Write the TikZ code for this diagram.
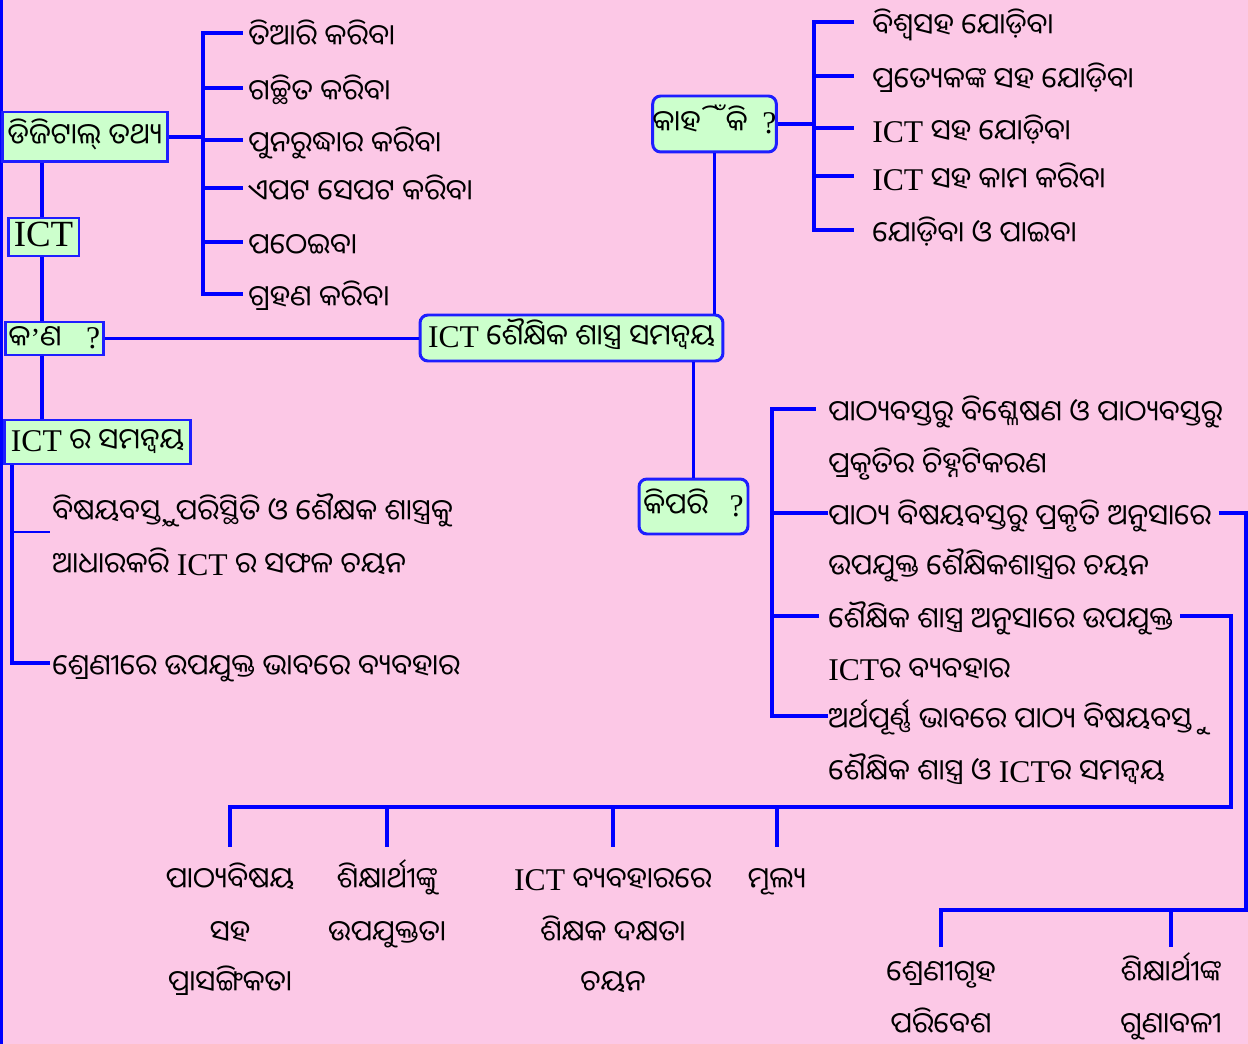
\documentclass[tikz,border=0pt]{standalone}
\usepackage{fontspec}
\setmainfont{Liberation Serif}
\newfontfamily\odia[Script=Oriya]{Noto Sans Oriya UI}
\usepackage{xcolor}
\usetikzlibrary{calc}
\definecolor{bgpink}{RGB}{252,200,230}
\definecolor{bxgreen}{RGB}{204,255,204}
\definecolor{lnblue}{RGB}{0,0,255}
\definecolor{bxblue}{RGB}{30,30,255}
\newcommand{\odfs}{\odia\fontsize{16.5}{20}\selectfont}
\newcommand{\ICT}{{\rmfamily\fontsize{18}{20}\selectfont ICT}}
\newcommand{\qm}{{\rmfamily\fontsize{18}{20}\selectfont ?}}

\begin{document}
\begin{tikzpicture}[x=0.02cm,y=-0.02cm,font=\odfs,
  ln/.style={draw=lnblue,line width=2pt},
  lnthin/.style={draw=lnblue,line width=1.2pt},
  sqbox/.style={draw=bxblue,fill=bxgreen,line width=1.7pt,inner sep=0pt,text height=14pt,text depth=3pt},
  rdbox/.style={sqbox,rounded corners=4.5pt},
  txt/.style={inner sep=0pt,text height=16pt,text depth=0pt}]
  \fill[bgpink] (0,0) rectangle (1248,1044);
  \useasboundingbox (0,0) rectangle (1248,1044);
  \draw[ln] (1.5,0) -- (1.5,1044);

  % boxes
  \node[sqbox,minimum width=3.32cm,minimum height=1cm] (dig) at (85,137) {ଡିଜିଟାଲ୍ ତଥ୍ୟ};
  \node[sqbox,font=\rmfamily\fontsize{21}{24}\selectfont,minimum width=1.42cm,minimum height=0.76cm] (ict) at (43.5,237) {ICT};
  \node[sqbox,minimum width=1.98cm,minimum height=0.66cm] (kon) at (54.5,338.5) {କ{\rmfamily ’}ଣ\hspace{14pt}\qm};
  \node[sqbox,minimum width=3.74cm,minimum height=0.88cm] (icts) at (97.5,442) {\ICT{} ର ସମନ୍ୱୟ};
  \node[rdbox,minimum width=6.06cm,minimum height=0.92cm] (main) at (571.5,338) {\ICT{} ଶୈକ୍ଷିକ ଶାସ୍ତ୍ର ସମନ୍ୱୟ};
  \node[rdbox,minimum width=2.38cm,minimum height=1.12cm] (kah) at (714.5,124) {କାହିଁକି\enspace\qm};
  \node[rdbox,minimum width=2.18cm,minimum height=1.1cm] (kip) at (693.5,506.5) {କିପରି\hspace{12pt}\qm};

  % digital data
  \node[txt,anchor=west] (a1) at (248,33) {ତିଆରି କରିବା};
  \node[txt,anchor=west] (a2) at (248,88) {ଗଚ୍ଛିତ କରିବା};
  \node[txt,anchor=west] (a3) at (248,140) {ପୁନରୁଦ୍ଧାର କରିବା};
  \node[txt,anchor=west] (a4) at (248,188) {ଏପଟ ସେପଟ କରିବା};
  \node[txt,anchor=west] (a5) at (248,242) {ପଠେଇବା};
  \node[txt,anchor=west] (a6) at (248,294) {ଗ୍ରହଣ କରିବା};
  \coordinate (dbr) at (203,0);
  \draw[ln] (dig.east) -- (dig.east -| dbr);
  \draw[ln] ([xshift=-3pt]a1.west) -| (dbr |- a6) -- ([xshift=-3pt]a6.west);
  \draw[ln] (dbr |- a2) -- ([xshift=-3pt]a2.west); \draw[ln] (dbr |- a3) -- ([xshift=-3pt]a3.west);
  \draw[ln] (dbr |- a4) -- ([xshift=-3pt]a4.west); \draw[ln] (dbr |- a5) -- ([xshift=-3pt]a5.west);

  % why
  \node[txt,anchor=west] (k1) at (872,22) {ବିଶ୍ୱସହ ଯୋଡ଼ିବା};
  \node[txt,anchor=west] (k2) at (872,76) {ପ୍ରତ୍ୟେକଙ୍କ ସହ ଯୋଡ଼ିବା};
  \node[txt,anchor=west] (k3) at (872,128) {\ICT{} ସହ ଯୋଡ଼ିବା};
  \node[txt,anchor=west] (k4) at (872,176) {\ICT{} ସହ କାମ କରିବା};
  \node[txt,anchor=west] (k5) at (872,230) {ଯୋଡ଼ିବା ଓ ପାଇବା};
  \coordinate (kbr) at (814,0);
  \draw[ln] (kah.east) -- (kah.east -| kbr);
  \draw[ln] ([xshift=-10pt]k1.west) -| (kbr |- k5) -- ([xshift=-10pt]k5.west);
  \draw[ln] (kbr |- k2) -- ([xshift=-10pt]k2.west); \draw[ln] (kbr |- k3) -- ([xshift=-10pt]k3.west);
  \draw[ln] (kbr |- k4) -- ([xshift=-10pt]k4.west);

  % left spine
  \coordinate (sp) at (42,0);
  \draw[ln] (sp |- dig.south) -- (sp |- ict.north);
  \draw[ln] (sp |- ict.south) -- (sp |- kon.north);
  \draw[ln] (sp |- kon.south) -- (sp |- icts.north);
  \draw[ln] (kon.east) -- (main.west |- kon.east);
  \draw[ln] (kah.south) -- (kah.south |- main.north);
  \draw[ln] (kip.north |- main.south) -- (kip.north);

  % what
  \node[txt,anchor=west] (l1) at (52,508) {ବିଷୟବସ୍ତୁ{\rmfamily ,} ପରିସ୍ଥିତି ଓ ଶୈକ୍ଷକ ଶାସ୍ତ୍ରକୁ};
  \node[txt,anchor=west] (l2) at (52,561) {ଆଧାରକରି \ICT{} ର ସଫଳ ଚୟନ};
  \node[txt,anchor=west] (l3) at (52,663) {ଶ୍ରେଣୀରେ ଉପଯୁକ୍ତ ଭାବରେ ବ୍ୟବହାର};
  \coordinate (sp2) at (12,0);
  \draw[ln] (sp2 |- icts.south) |- ([xshift=-1pt]l3.west);
  \coordinate (j1) at ($(l1.south west)+(-2,10)$);
  \draw[lnthin] (sp2 |- j1) -- (j1);

  % how
  \node[txt,anchor=west] (r1) at (828,409) {ପାଠ୍ୟବସ୍ତୁର ବିଶ୍ଳେଷଣ ଓ ପାଠ୍ୟବସ୍ତୁର};
  \node[txt,anchor=west] (r2) at (828,461) {ପ୍ରକୃତିର ଚିହ୍ନଟିକରଣ};
  \node[txt,anchor=west] (r3) at (828,513) {ପାଠ୍ୟ ବିଷୟବସ୍ତୁର ପ୍ରକୃତି ଅନୁସାରେ};
  \node[txt,anchor=west] (r4) at (828,563) {ଉପଯୁକ୍ତ ଶୈକ୍ଷିକଶାସ୍ତ୍ରର ଚୟନ};
  \node[txt,anchor=west] (r5) at (828,616) {ଶୈକ୍ଷିକ ଶାସ୍ତ୍ର ଅନୁସାରେ ଉପଯୁକ୍ତ};
  \node[txt,anchor=west] (r6) at (828,666) {\ICT{}ର ବ୍ୟବହାର};
  \node[txt,anchor=west] (r7) at (828,716) {ଅର୍ଥପୂର୍ଣ୍ଣ ଭାବରେ ପାଠ୍ୟ ବିଷୟବସ୍ତୁ};
  \node[txt,anchor=west] (r8) at (828,768) {ଶୈକ୍ଷିକ ଶାସ୍ତ୍ର ଓ \ICT{}ର ସମନ୍ୱୟ};
  \coordinate (rbr) at (772,0);
  \draw[ln] ([xshift=-7pt]r1.west) -| (rbr |- r7) -- (r7.west);
  \draw[ln] (rbr |- r3) -- (r3.west); \draw[ln] (rbr |- r5) -- ([xshift=-5pt]r5.west);

  % factors
  \node[txt] (b1a) at (230,876) {ପାଠ୍ୟବିଷୟ}; \node[txt] (b1b) at (230,929) {ସହ};
  \node[txt] (b1c) at (230,979) {ପ୍ରାସଙ୍ଗିକତା};
  \node[txt] (b2a) at (387,876) {ଶିକ୍ଷାର୍ଥୀଙ୍କୁ}; \node[txt] (b2b) at (387,929) {ଉପଯୁକ୍ତତା};
  \node[txt] (b3a) at (613,876) {\ICT{} ବ୍ୟବହାରରେ}; \node[txt] (b3b) at (613,929) {ଶିକ୍ଷକ ଦକ୍ଷତା};
  \node[txt] (b3c) at (613,979) {ଚୟନ};
  \node[txt] (b4a) at (777,876) {ମୂଲ୍ୟ};
  \node[txt] (c1a) at (941,969) {ଶ୍ରେଣୀଗୃହ}; \node[txt] (c1b) at (941,1021) {ପରିବେଶ};
  \node[txt] (c2a) at (1171,969) {ଶିକ୍ଷାର୍ଥୀଙ୍କ}; \node[txt] (c2b) at (1171,1021) {ଗୁଣାବଳୀ};
  \coordinate (bus1) at (1231,807); \coordinate (bus2) at (1246,910);
  \draw[ln] ([xshift=4pt]r5.east) -| (bus1) -- (bus1 -| b1a) -- ($(b1a.north)+(0,-15)$);
  \draw[ln] (bus1 -| b2a) -- ($(b2a.north)+(0,-15)$);
  \draw[ln] (bus1 -| b3a) -- ($(b3a.north)+(0,-15)$);
  \draw[ln] (bus1 -| b4a) -- ($(b4a.north)+(0,-15)$);
  \draw[ln] ([xshift=4pt]r3.east) -| (bus2) -- (bus2 -| c1a) -- ($(c1a.north)+(0,-8)$);
  \draw[ln] (bus2 -| c2a) -- ($(c2a.north)+(0,-8)$);
\end{tikzpicture}
\end{document}
